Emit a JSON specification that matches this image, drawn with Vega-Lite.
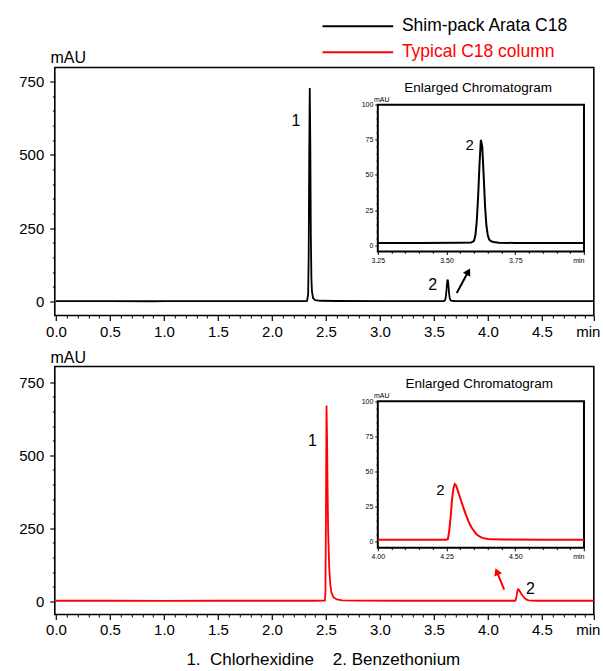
{
  "$schema": "https://vega.github.io/schema/vega-lite/v6.json",
  "padding": {"left": 17.8, "top": 17.5, "right": 5, "bottom": 0},
  "bounds": "flush",
  "spacing": 51,
  "title": {"text": "1.\u00a0 Chlorhexidine\u00a0\u00a0\u00a0 2. Benzethonium", "orient": "bottom", "anchor": "middle", "fontSize": 17, "fontWeight": "normal", "font": "Liberation Sans", "color": "#000000", "offset": 14, "dx": 14},
  "datasets": {
    "top": [
      {"t": 0, "v": 1.5, "s": "Shim-pack Arata C18"},
      {"t": 0.5, "v": 1.5, "s": "Shim-pack Arata C18"},
      {"t": 0.9, "v": 0.8, "s": "Shim-pack Arata C18"},
      {"t": 1.0, "v": 1.4, "s": "Shim-pack Arata C18"},
      {"t": 1.5, "v": 1.5, "s": "Shim-pack Arata C18"},
      {"t": 2.0, "v": 1.5, "s": "Shim-pack Arata C18"},
      {"t": 2.3, "v": 1.5, "s": "Shim-pack Arata C18"},
      {"t": 2.325, "v": 2, "s": "Shim-pack Arata C18"},
      {"t": 2.335, "v": 25, "s": "Shim-pack Arata C18"},
      {"t": 2.34, "v": 160, "s": "Shim-pack Arata C18"},
      {"t": 2.345, "v": 500, "s": "Shim-pack Arata C18"},
      {"t": 2.35, "v": 728, "s": "Shim-pack Arata C18"},
      {"t": 2.355, "v": 540, "s": "Shim-pack Arata C18"},
      {"t": 2.36, "v": 220, "s": "Shim-pack Arata C18"},
      {"t": 2.365, "v": 80, "s": "Shim-pack Arata C18"},
      {"t": 2.37, "v": 35, "s": "Shim-pack Arata C18"},
      {"t": 2.38, "v": 12, "s": "Shim-pack Arata C18"},
      {"t": 2.4, "v": 5, "s": "Shim-pack Arata C18"},
      {"t": 2.45, "v": 2.5, "s": "Shim-pack Arata C18"},
      {"t": 2.6, "v": 1.8, "s": "Shim-pack Arata C18"},
      {"t": 3.0, "v": 1.5, "s": "Shim-pack Arata C18"},
      {"t": 3.25, "v": 1.5, "s": "Shim-pack Arata C18"},
      {"t": 3.4, "v": 1.5, "s": "Shim-pack Arata C18"},
      {"t": 3.55, "v": 1.6, "s": "Shim-pack Arata C18"},
      {"t": 3.59, "v": 1.8, "s": "Shim-pack Arata C18"},
      {"t": 3.6, "v": 3, "s": "Shim-pack Arata C18"},
      {"t": 3.605, "v": 7, "s": "Shim-pack Arata C18"},
      {"t": 3.61, "v": 17, "s": "Shim-pack Arata C18"},
      {"t": 3.615, "v": 35, "s": "Shim-pack Arata C18"},
      {"t": 3.62, "v": 58, "s": "Shim-pack Arata C18"},
      {"t": 3.625, "v": 75, "s": "Shim-pack Arata C18"},
      {"t": 3.63, "v": 70, "s": "Shim-pack Arata C18"},
      {"t": 3.635, "v": 50, "s": "Shim-pack Arata C18"},
      {"t": 3.64, "v": 28, "s": "Shim-pack Arata C18"},
      {"t": 3.645, "v": 14, "s": "Shim-pack Arata C18"},
      {"t": 3.65, "v": 7, "s": "Shim-pack Arata C18"},
      {"t": 3.655, "v": 4, "s": "Shim-pack Arata C18"},
      {"t": 3.66, "v": 3, "s": "Shim-pack Arata C18"},
      {"t": 3.67, "v": 2.2, "s": "Shim-pack Arata C18"},
      {"t": 3.69, "v": 1.7, "s": "Shim-pack Arata C18"},
      {"t": 3.75, "v": 1.5, "s": "Shim-pack Arata C18"},
      {"t": 4.0, "v": 1.5, "s": "Shim-pack Arata C18"},
      {"t": 4.5, "v": 1.5, "s": "Shim-pack Arata C18"},
      {"t": 4.98, "v": 1.5, "s": "Shim-pack Arata C18"}
    ],
    "bottom": [
      {"t": 0, "v": 1.5, "s": "Typical C18 column"},
      {"t": 0.5, "v": 1.5, "s": "Typical C18 column"},
      {"t": 1.0, "v": 1.3, "s": "Typical C18 column"},
      {"t": 1.5, "v": 1.5, "s": "Typical C18 column"},
      {"t": 2.0, "v": 1.5, "s": "Typical C18 column"},
      {"t": 2.4, "v": 1.5, "s": "Typical C18 column"},
      {"t": 2.49, "v": 1.8, "s": "Typical C18 column"},
      {"t": 2.495, "v": 30, "s": "Typical C18 column"},
      {"t": 2.5, "v": 300, "s": "Typical C18 column"},
      {"t": 2.505, "v": 670, "s": "Typical C18 column"},
      {"t": 2.51, "v": 560, "s": "Typical C18 column"},
      {"t": 2.515, "v": 380, "s": "Typical C18 column"},
      {"t": 2.52, "v": 240, "s": "Typical C18 column"},
      {"t": 2.53, "v": 115, "s": "Typical C18 column"},
      {"t": 2.54, "v": 58, "s": "Typical C18 column"},
      {"t": 2.55, "v": 30, "s": "Typical C18 column"},
      {"t": 2.57, "v": 13, "s": "Typical C18 column"},
      {"t": 2.6, "v": 6, "s": "Typical C18 column"},
      {"t": 2.65, "v": 3, "s": "Typical C18 column"},
      {"t": 2.8, "v": 1.8, "s": "Typical C18 column"},
      {"t": 3.2, "v": 1.5, "s": "Typical C18 column"},
      {"t": 3.6, "v": 1.5, "s": "Typical C18 column"},
      {"t": 4.0, "v": 1.5, "s": "Typical C18 column"},
      {"t": 4.2, "v": 1.5, "s": "Typical C18 column"},
      {"t": 4.25, "v": 1.5, "s": "Typical C18 column"},
      {"t": 4.255, "v": 2, "s": "Typical C18 column"},
      {"t": 4.26, "v": 8, "s": "Typical C18 column"},
      {"t": 4.265, "v": 18, "s": "Typical C18 column"},
      {"t": 4.27, "v": 30, "s": "Typical C18 column"},
      {"t": 4.275, "v": 38, "s": "Typical C18 column"},
      {"t": 4.28, "v": 41, "s": "Typical C18 column"},
      {"t": 4.285, "v": 40, "s": "Typical C18 column"},
      {"t": 4.29, "v": 37, "s": "Typical C18 column"},
      {"t": 4.3, "v": 31, "s": "Typical C18 column"},
      {"t": 4.31, "v": 25, "s": "Typical C18 column"},
      {"t": 4.32, "v": 19.5, "s": "Typical C18 column"},
      {"t": 4.33, "v": 14.5, "s": "Typical C18 column"},
      {"t": 4.34, "v": 10.5, "s": "Typical C18 column"},
      {"t": 4.35, "v": 7.5, "s": "Typical C18 column"},
      {"t": 4.36, "v": 5.2, "s": "Typical C18 column"},
      {"t": 4.37, "v": 3.8, "s": "Typical C18 column"},
      {"t": 4.38, "v": 2.8, "s": "Typical C18 column"},
      {"t": 4.4, "v": 2, "s": "Typical C18 column"},
      {"t": 4.45, "v": 1.6, "s": "Typical C18 column"},
      {"t": 4.6, "v": 1.5, "s": "Typical C18 column"},
      {"t": 4.75, "v": 1.5, "s": "Typical C18 column"},
      {"t": 4.98, "v": 1.5, "s": "Typical C18 column"}
    ],
    "topAnn": [{"x": 2.221, "y": 617, "label": "1"}, {"x": 3.489, "y": 57, "label": "2"}],
    "topArrow": [{"x1": 3.711, "y1": 28.7, "x2": 3.818, "y2": 102}],
    "topInsetBox": [{"x1": 3.25, "x2": 4.0, "y1": -4.5, "y2": 100}],
    "topInsetAnn": [{"x": 3.584, "y": 71.5, "label": "2"}],
    "topInsetTitle": [{"x": 3.615, "y": 111.9, "label": "Enlarged Chromatogram"}],
    "botAnn": [{"x": 2.374, "y": 550, "label": "1"}, {"x": 4.393, "y": 43, "label": "2"}],
    "botArrow": [{"x1": 4.15, "y1": 40, "x2": 4.082, "y2": 101.7}],
    "botInsetBox": [{"x1": 4.0, "x2": 4.75, "y1": -4.3, "y2": 100}],
    "botInsetAnn": [{"x": 4.228, "y": 36.7, "label": "2"}],
    "botInsetTitle": [{"x": 4.369, "y": 112.4, "label": "Enlarged Chromatogram"}]
  },
  "vconcat": [
    {
      "width": 539,
      "height": 248,
      "resolve": {"scale": {"x": "independent", "y": "independent"}},
      "layer": [
        {
          "layer": [
            {
              "data": {"name": "top"},
              "mark": {"type": "line", "strokeWidth": 1.8},
              "encoding": {
                "x": {"field": "t", "type": "quantitative", "scale": {"domain": [-0.011, 4.98], "nice": false, "zero": false},
                  "axis": {"orient": "bottom", "values": [0, 0.5, 1, 1.5, 2, 2.5, 3, 3.5, 4, 4.5, 4.98], "labelExpr": "datum.value > 4.9 ? 'min' : format(datum.value, '.1f')", "tickSize": 5, "tickWidth": 1.2, "labelFontSize": 15, "labelPadding": 4, "title": null, "labelOffset": {"condition": {"test": "datum.value > 4.9", "value": -6}, "value": 0}}},
                "y": {"field": "v", "type": "quantitative", "scale": {"domain": [-47.7, 797.7], "nice": false, "zero": false},
                  "axis": {"orient": "left", "values": [0, 250, 500, 750], "tickSize": 5, "tickWidth": 1.2, "labelFontSize": 15, "labelPadding": 6, "title": "mAU", "titleAngle": 0, "titleX": 13, "titleY": -10.4, "titleAlign": "center", "titleBaseline": "middle", "titleFontSize": 16, "titleFontWeight": "normal"}},
                "color": {"field": "s", "type": "nominal", "scale": {"domain": ["Shim-pack Arata C18", "Typical C18 column"], "range": ["#000000", "#ff0000"]},
                  "legend": {"orient": "none", "legendX": 322.6, "legendY": -50, "title": null, "symbolType": "M-9,0H1", "symbolSize": 200, "symbolStrokeWidth": 2, "labelFontSize": 17.5, "labelFont": "Liberation Sans", "labelOffset": 7, "rowPadding": 7, "labelLimit": 400, "padding": 0,
                    "encode": {"labels": {"update": {"fill": {"signal": "datum.value === 'Typical C18 column' ? '#ff0000' : '#000000'"}}}}}}
              }
            },
            {
              "data": {"name": "topAnn"},
              "mark": {"type": "text", "fontSize": 16, "align": "center", "baseline": "middle"},
              "encoding": {"x": {"field": "x", "type": "quantitative"}, "y": {"field": "y", "type": "quantitative"}, "text": {"field": "label"}}
            },
            {
              "data": {"name": "topArrow"},
              "mark": {"type": "point", "shape": "triangle-up", "filled": true, "size": 70, "angle": 28, "color": "#000000", "opacity": 1},
              "encoding": {"x": {"field": "x2", "type": "quantitative"}, "y": {"field": "y2", "type": "quantitative"}}
            }
          ]
        },
        {
          "data": {"name": "topArrow"},
          "mark": {"type": "rule", "strokeWidth": 2, "color": "#000000"},
          "encoding": {
            "x": {"field": "x1", "type": "quantitative", "scale": {"domain": [-0.011, 4.98], "nice": false, "zero": false},
              "axis": {"orient": "bottom", "values": [0.1, 0.2, 0.3, 0.4, 0.6, 0.7, 0.8, 0.9, 1.1, 1.2, 1.3, 1.4, 1.6, 1.7, 1.8, 1.9, 2.1, 2.2, 2.3, 2.4, 2.6, 2.7, 2.8, 2.9, 3.1, 3.2, 3.3, 3.4, 3.6, 3.7, 3.8, 3.9, 4.1, 4.2, 4.3, 4.4, 4.6, 4.7, 4.8, 4.9], "labels": false, "tickSize": 2.5, "title": null}},
            "y": {"field": "y1", "type": "quantitative", "scale": {"domain": [-47.7, 797.7], "nice": false, "zero": false},
              "axis": {"orient": "left", "values": [50, 100, 150, 200, 300, 350, 400, 450, 550, 600, 650, 700], "labels": false, "tickSize": 2.5, "title": null}},
            "x2": {"field": "x2"},
            "y2": {"field": "y2"}
          }
        },
        {
          "layer": [
            {
              "data": {"name": "topInsetBox"},
              "mark": {"type": "rect", "fill": "#ffffff", "stroke": "#000000", "strokeWidth": 2},
              "encoding": {
                "x": {"field": "x1", "type": "quantitative", "scale": {"domain": [2.075, 4.0357], "nice": false, "zero": false},
                  "axis": {"orient": "bottom", "offset": -64, "values": [3.25, 3.5, 3.75, 4.0], "labelExpr": "datum.value > 3.99 ? 'min' : format(datum.value, '.2f')", "labelFontSize": 7, "tickSize": 3, "labelPadding": 2, "title": null, "labelAlign": {"condition": {"test": "datum.value > 3.99", "value": "right"}, "value": "center"}}},
                "x2": {"field": "x2"},
                "y": {"field": "y1", "type": "quantitative", "scale": {"domain": [-50.2, 126.6], "nice": false, "zero": false},
                  "axis": {"orient": "left", "offset": -323, "values": [0, 25, 50, 75, 100], "labelFontSize": 7, "tickSize": 3, "labelPadding": 2, "title": "mAU", "titleAngle": 0, "titleFontSize": 7, "titleFontWeight": "normal", "titleX": 3.4, "titleY": 31.6, "titleAlign": "center", "titleBaseline": "middle"}},
                "y2": {"field": "y2"}
              }
            },
            {
              "data": {"name": "top"},
              "transform": [{"filter": "datum.t >= 3.25 && datum.t <= 4.0"}],
              "mark": {"type": "line", "strokeWidth": 2, "color": "#000000"},
              "encoding": {"x": {"field": "t", "type": "quantitative"}, "y": {"field": "v", "type": "quantitative"}}
            },
            {
              "data": {"name": "topInsetAnn"},
              "mark": {"type": "text", "fontSize": 15, "align": "center", "baseline": "middle"},
              "encoding": {"x": {"field": "x", "type": "quantitative"}, "y": {"field": "y", "type": "quantitative"}, "text": {"field": "label"}}
            }
          ]
        },
        {
          "data": {"name": "topInsetTitle"},
          "mark": {"type": "text", "fontSize": 13.5, "align": "center", "baseline": "middle"},
          "encoding": {
            "x": {"field": "x", "type": "quantitative", "scale": {"domain": [2.075, 4.0357], "nice": false, "zero": false},
              "axis": {"orient": "bottom", "offset": -64, "values": [3.3, 3.35, 3.4, 3.45, 3.55, 3.6, 3.65, 3.7, 3.8, 3.85, 3.9, 3.95], "labels": false, "tickSize": 1.8, "title": null}},
            "y": {"field": "y", "type": "quantitative", "scale": {"domain": [-50.2, 126.6], "nice": false, "zero": false},
              "axis": {"orient": "left", "offset": -323, "values": [5, 10, 15, 20, 30, 35, 40, 45, 55, 60, 65, 70, 80, 85, 90, 95], "labels": false, "tickSize": 1.8, "title": null}},
            "text": {"field": "label"}
          }
        }
      ]
    },
    {
      "width": 539,
      "height": 248,
      "resolve": {"scale": {"x": "independent", "y": "independent"}},
      "layer": [
        {
          "layer": [
            {
              "data": {"name": "bottom"},
              "mark": {"type": "line", "strokeWidth": 1.8},
              "encoding": {
                "x": {"field": "t", "type": "quantitative", "scale": {"domain": [-0.011, 4.98], "nice": false, "zero": false},
                  "axis": {"orient": "bottom", "values": [0, 0.5, 1, 1.5, 2, 2.5, 3, 3.5, 4, 4.5, 4.98], "labelExpr": "datum.value > 4.9 ? 'min' : format(datum.value, '.1f')", "tickSize": 5, "tickWidth": 1.2, "labelFontSize": 15, "labelPadding": 3, "title": null, "labelOffset": {"condition": {"test": "datum.value > 4.9", "value": -6}, "value": 0}}},
                "y": {"field": "v", "type": "quantitative", "scale": {"domain": [-45.5, 803.8], "nice": false, "zero": false},
                  "axis": {"orient": "left", "values": [0, 250, 500, 750], "tickSize": 5, "tickWidth": 1.2, "labelFontSize": 15, "labelPadding": 6, "title": "mAU", "titleAngle": 0, "titleX": 13, "titleY": -9.3, "titleAlign": "center", "titleBaseline": "middle", "titleFontSize": 16, "titleFontWeight": "normal"}},
                "color": {"field": "s", "type": "nominal", "scale": {"domain": ["Shim-pack Arata C18", "Typical C18 column"], "range": ["#000000", "#ff0000"]}}
              }
            },
            {
              "data": {"name": "botAnn"},
              "mark": {"type": "text", "fontSize": 16, "align": "center", "baseline": "middle"},
              "encoding": {"x": {"field": "x", "type": "quantitative"}, "y": {"field": "y", "type": "quantitative"}, "text": {"field": "label"}}
            },
            {
              "data": {"name": "botArrow"},
              "mark": {"type": "point", "shape": "triangle-up", "filled": true, "size": 70, "angle": -22, "color": "#ff0000", "opacity": 1},
              "encoding": {"x": {"field": "x2", "type": "quantitative"}, "y": {"field": "y2", "type": "quantitative"}}
            }
          ]
        },
        {
          "data": {"name": "botArrow"},
          "mark": {"type": "rule", "strokeWidth": 2, "color": "#ff0000"},
          "encoding": {
            "x": {"field": "x1", "type": "quantitative", "scale": {"domain": [-0.011, 4.98], "nice": false, "zero": false},
              "axis": {"orient": "bottom", "values": [0.1, 0.2, 0.3, 0.4, 0.6, 0.7, 0.8, 0.9, 1.1, 1.2, 1.3, 1.4, 1.6, 1.7, 1.8, 1.9, 2.1, 2.2, 2.3, 2.4, 2.6, 2.7, 2.8, 2.9, 3.1, 3.2, 3.3, 3.4, 3.6, 3.7, 3.8, 3.9, 4.1, 4.2, 4.3, 4.4, 4.6, 4.7, 4.8, 4.9], "labels": false, "tickSize": 2.5, "title": null}},
            "y": {"field": "y1", "type": "quantitative", "scale": {"domain": [-45.5, 803.8], "nice": false, "zero": false},
              "axis": {"orient": "left", "values": [50, 100, 150, 200, 300, 350, 400, 450, 550, 600, 650, 700], "labels": false, "tickSize": 2.5, "title": null}},
            "x2": {"field": "x2"},
            "y2": {"field": "y2"}
          }
        },
        {
          "layer": [
            {
              "data": {"name": "botInsetBox"},
              "mark": {"type": "rect", "fill": "#ffffff", "stroke": "#000000", "strokeWidth": 2},
              "encoding": {
                "x": {"field": "x1", "type": "quantitative", "scale": {"domain": [2.825, 4.7857], "nice": false, "zero": false},
                  "axis": {"orient": "bottom", "offset": -66.7, "values": [4.0, 4.25, 4.5, 4.75], "labelExpr": "datum.value > 4.74 ? 'min' : format(datum.value, '.2f')", "labelFontSize": 7, "tickSize": 3, "labelPadding": 2, "title": null, "labelAlign": {"condition": {"test": "datum.value > 4.74", "value": "right"}, "value": "center"}}},
                "x2": {"field": "x2"},
                "y": {"field": "y1", "type": "quantitative", "scale": {"domain": [-51.7, 124.7], "nice": false, "zero": false},
                  "axis": {"orient": "left", "offset": -323, "values": [0, 25, 50, 75, 100], "labelFontSize": 7, "tickSize": 3, "labelPadding": 2, "title": "mAU", "titleAngle": 0, "titleFontSize": 7, "titleFontWeight": "normal", "titleX": 3.4, "titleY": 29.3, "titleAlign": "center", "titleBaseline": "middle"}},
                "y2": {"field": "y2"}
              }
            },
            {
              "data": {"name": "bottom"},
              "transform": [{"filter": "datum.t >= 4.0 && datum.t <= 4.75"}],
              "mark": {"type": "line", "strokeWidth": 2, "color": "#ff0000"},
              "encoding": {"x": {"field": "t", "type": "quantitative"}, "y": {"field": "v", "type": "quantitative"}}
            },
            {
              "data": {"name": "botInsetAnn"},
              "mark": {"type": "text", "fontSize": 15, "align": "center", "baseline": "middle"},
              "encoding": {"x": {"field": "x", "type": "quantitative"}, "y": {"field": "y", "type": "quantitative"}, "text": {"field": "label"}}
            }
          ]
        },
        {
          "data": {"name": "botInsetTitle"},
          "mark": {"type": "text", "fontSize": 13.5, "align": "center", "baseline": "middle"},
          "encoding": {
            "x": {"field": "x", "type": "quantitative", "scale": {"domain": [2.825, 4.7857], "nice": false, "zero": false},
              "axis": {"orient": "bottom", "offset": -66.7, "values": [4.05, 4.1, 4.15, 4.2, 4.3, 4.35, 4.4, 4.45, 4.55, 4.6, 4.65, 4.7], "labels": false, "tickSize": 1.8, "title": null}},
            "y": {"field": "y", "type": "quantitative", "scale": {"domain": [-51.7, 124.7], "nice": false, "zero": false},
              "axis": {"orient": "left", "offset": -323, "values": [5, 10, 15, 20, 30, 35, 40, 45, 55, 60, 65, 70, 80, 85, 90, 95], "labels": false, "tickSize": 1.8, "title": null}},
            "text": {"field": "label"}
          }
        }
      ]
    }
  ],
  "config": {
    "font": "Liberation Sans",
    "view": {"stroke": "#000000", "strokeWidth": 1.6},
    "axis": {"domain": false, "grid": false, "labelFont": "Liberation Sans", "titleFont": "Liberation Sans", "labelColor": "#000000", "titleColor": "#000000", "tickColor": "#000000", "labelFlush": false, "labelOverlap": false, "labelBound": false},
    "text": {"font": "Liberation Sans", "color": "#000000"},
    "legend": {"labelColor": "#000000"}
  }
}
